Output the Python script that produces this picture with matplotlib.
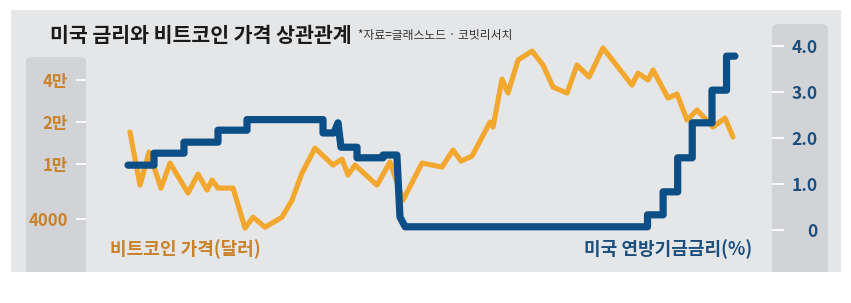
"""US rate vs bitcoin price chart (Korean newspaper style)."""

import matplotlib
matplotlib.use('Agg')
import matplotlib.pyplot as plt
from matplotlib.patches import Rectangle, FancyBboxPatch

plt.rcParams['font.family'] = ['Noto Sans CJK KR', 'DejaVu Sans']

# months since Jan 2018
btc_x = [0.44, 1.40, 2.27, 3.42, 4.29, 6.02, 6.98, 7.85, 8.33, 8.90,
         10.35, 11.50, 12.27, 13.42, 15.06, 16.02, 16.98, 18.23, 19.96, 20.83,
         21.40, 22.07, 24.19, 25.44, 26.69, 28.52, 30.44, 31.50, 32.27, 33.33,
         35.06, 35.35, 36.21, 36.79, 37.75, 39.10, 40.15, 41.12, 42.46, 43.42,
         44.58, 45.92, 48.71, 49.29, 50.25, 50.73, 52.17, 53.04, 54.00, 54.96,
         56.50, 57.65, 58.42]
btc_usd = [16800, 7000, 12100, 6670, 10080, 6150, 8410, 6460, 7620, 6670,
           6670, 3450, 4130, 3500, 4130, 5470, 8550, 12900, 9760, 10770,
           8270, 9760, 7000, 10250, 5470, 10080, 9440, 12490, 10420, 11320,
           19840, 18260, 40300, 32000, 55200, 64000, 50800, 35300, 32000, 50800,
           41700, 67300, 36500, 44500, 39700, 46800, 29500, 31500, 20500, 24200,
           18260, 21200, 15500]

fed_x = [0.25, 2.75, 2.75, 5.63, 5.63, 8.90, 8.90, 11.69, 11.69, 19.0,
         19.0, 20.05, 20.44, 20.73, 22.27, 22.27, 24.77, 24.77, 26.1, 26.4,
         26.9, 50.2, 50.2, 51.7, 51.7, 53.1, 53.1, 54.5, 54.5, 56.4,
         56.4, 57.8, 57.8, 58.6]
fed_rate = [1.41, 1.41, 1.67, 1.67, 1.91, 1.91, 2.17, 2.17, 2.40, 2.40,
            2.11, 2.11, 2.33, 1.80, 1.80, 1.57, 1.57, 1.63, 1.63, 0.28,
            0.07, 0.07, 0.33, 0.33, 0.83, 0.83, 1.57, 1.57, 2.33, 2.33,
            3.04, 3.04, 3.78, 3.78]

btc_ticks = [4000, 10000, 20000, 40000]
btc_labels = ['4000', '1만', '2만', '4만']
fed_ticks = [0, 1, 2, 3, 4]
fed_labels = ['0', '1.0', '2.0', '3.0', '4.0']

ORANGE = '#f2a72e'
ORANGE_TXT = '#c9822a'
BLUE = '#0c4f86'
BLUE_TXT = '#1c4f7e'
PANEL = '#e5e6e8'
STRIP = '#d2d3d6'

W, H = 851, 303
fig = plt.figure(figsize=(W / 100, H / 100), dpi=100)
fig.patch.set_facecolor('white')


def fx(px):
    return px / W


def fy(py):
    return 1 - py / H


panel = Rectangle((fx(11), fy(272)), fx(841) - fx(11), fy(10) - fy(272),
                  transform=fig.transFigure, facecolor=PANEL, edgecolor='none',
                  zorder=0)
fig.patches.append(panel)
for x0, x1, top in [(26, 86, 57), (772, 828, 24)]:
    strip = FancyBboxPatch((fx(x0), fy(290)), fx(x1) - fx(x0), fy(top) - fy(290),
                           boxstyle='round,pad=0,rounding_size=0.012',
                           transform=fig.transFigure, facecolor=STRIP,
                           edgecolor='none', zorder=0.5)
    strip.set_clip_path(panel)
    fig.patches.append(strip)

ax = fig.add_axes([fx(86), fy(272), fx(772) - fx(86), fy(10) - fy(272)])
ax.set_zorder(5)
ax.set_facecolor('none')
ax.set_yscale('log')
ax.set_xlim(-3.79, 62.17)
ax.set_ylim(1671, 126000)
ax.plot(btc_x, btc_usd, color=ORANGE, linewidth=3.7,
        solid_joinstyle='round', solid_capstyle='round', zorder=3)
ax.set_yticks(btc_ticks)
ax.set_yticklabels(btc_labels)
ax.yaxis.set_minor_locator(matplotlib.ticker.NullLocator())
ax.tick_params(axis='y', length=7.2, width=1.3, color='white', pad=6,
               labelsize=12, labelcolor=ORANGE_TXT)
for lab in ax.get_yticklabels():
    lab.set_fontweight('bold')
ax.set_xticks([])
for s in ax.spines.values():
    s.set_visible(False)

ax2 = ax.twinx()
ax2.set_zorder(6)
ax2.patch.set_visible(False)
ax2.set_ylim(-0.913, 4.783)
ax2.plot(fed_x, fed_rate, color=BLUE, linewidth=5.2,
         solid_joinstyle='round', solid_capstyle='round', zorder=4)
ax2.set_yticks(fed_ticks)
ax2.set_yticklabels(fed_labels)
ax2.tick_params(axis='y', length=8.6, width=1.3, color='white', pad=24,
                labelsize=12.5, labelcolor=BLUE_TXT)
for lab in ax2.get_yticklabels():
    lab.set_fontweight('bold')
    lab.set_horizontalalignment('right')
for s in ax2.spines.values():
    s.set_visible(False)

fig.text(fx(50), fy(35), '미국 금리와 비트코인 가격 상관관계', fontsize=14.8,
         fontweight='bold', color='#1a1a1a', va='center', ha='left')
fig.text(fx(358), fy(35), '*자료=글래스노드 · 코빗리서치', fontsize=8.5,
         color='#333333', va='center', ha='left')
fig.text(fx(110), fy(249), '비트코인 가격(달러)', fontsize=13,
         fontweight='bold', color=ORANGE_TXT, va='center', ha='left')
fig.text(fx(752), fy(249), '미국 연방기금금리(%)', fontsize=13,
         fontweight='bold', color=BLUE_TXT, va='center', ha='right')

plt.savefig('out.png', dpi=100, facecolor='white')
